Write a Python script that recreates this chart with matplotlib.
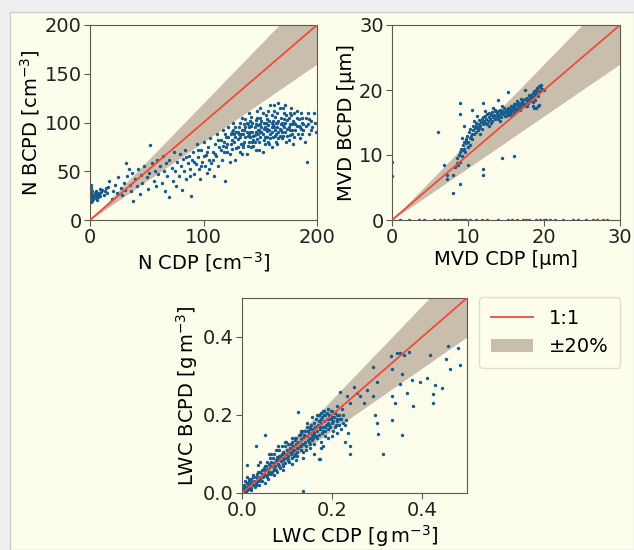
import matplotlib.pyplot as plt
import matplotlib.patches as mpatches
from matplotlib.lines import Line2D
import numpy as np

# ---------------- data ----------------
# N panel  (cm^-3)
n_pts = [
    (0.5,22),(0.5,25),(1,28),(1,33),(1.5,20),(2,24),(2,30),(3,22),(3,26),(4,25),(4,28),(5,23),(5,30),(6,26),
    (7,24),(7,28),(8,27),(9,25),(10,29),(11,31),(12,26),(13,30),(14,33),(15,28),(16,34),(0.5,36),(1,18),(2,21),
    (6,21),(9,32),
    (17,40),(19,22),(20,30),(22,36),(24,28),(25,44),(27,33),(28,26),(30,38),(31,31),(32,58),(33,45),(34,52),
    (35,36),(36,30),(37,48),(38,20),(40,42),(41,35),(42,52),(44,27),(45,46),(46,38),(48,55),(50,44),(51,32),
    (52,48),(53,77),(55,58),(56,40),(57,50),(58,35),(59,62),(60,47),
    (62,55),(63,38),(64,66),(65,50),(66,30),(67,58),(68,45),(70,24),(70,62),(72,53),(73,40),(74,70),(75,50),
    (76,35),(77,60),(78,45),(79,68),(80,55),(81,31),(82,63),(83,50),(84,72),(85,42),(86,58),(87,66),(88,52),
    (89,25),(90,62),(91,70),(92,47),(93,57),(94,78),(95,65),(96,52),(97,42),(98,72),(99,60),(100,80),(101,55),
    (102,67),(103,48),(104,75),(105,62),(106,84),(107,58),(108,70),(109,45),(110,78),
    (85,65),(92,60),(98,55),(103,70),(108,62),(95,72),(88,45),(105,52),(110,68),(100,66),
    (111,66),(112,88),(113,55),(114,75),(115,82),(116,62),(117,92),(118,70),(119,40),(120,85),(121,78),(122,95),
    (123,68),(124,88),(125,73),(126,100),(127,80),(128,62),(129,90),(130,83),(130,75),(131,95),(132,70),(133,88),
    (134,105),(135,78),(136,92),(137,85),(138,68),(139,98),(140,80),(140,110),(141,90),(142,75),(143,100),
    (144,86),(145,95),(146,72),(147,105),(148,88),(149,80),(150,98),(150,115),(151,90),(152,70),(153,100),
    (154,85),(155,108),(156,93),(157,80),(158,102),(159,118),(160,90),(160,75),(161,97),(162,112),(163,86),
    (164,100),(165,78),(166,120),(167,93),(168,105),(169,84),(170,97),(171,110),(172,90),(173,80),(174,103),
    (175,95),(176,87),(177,108),(178,98),(179,78),(180,100),(181,92),(182,105),(183,88),(184,96),(185,84),
    (186,110),(187,100),(188,92),(189,80),(190,105),(191,60),(192,98),(193,88),(195,102),(196,95),(197,110),
    (198,100),(199,90),
    (132,85),(134,92),(136,80),(138,90),(142,96),(144,82),(146,90),(148,97),(152,88),(154,95),(156,85),
    (158,92),(160,100),(162,95),(164,88),(166,102),(168,92),(170,86),(172,100),(174,93),(176,98),(178,88),
    (145,87),(155,100),(165,95),(150,85),(140,95),(135,88),(125,82),(128,85),(120,75),(118,80),(115,72),
    (170,115),(160,108),(150,105),(175,82),(185,95),(180,85),(163,92),(153,93),(143,90),(167,86),(157,97),
    (147,83),(137,95),(127,88),(180,110),(175,105),(165,110),(155,85),(145,80),(135,75),(125,90),(158,78),
    (168,98),(178,92),(188,98),(138,100),(148,92),(150,90),(160,95),
    (128,95),(131,88),(133,78),(136,98),(139,86),(141,102),(143,80),(146,98),(149,92),(151,102),(153,82),
    (156,104),(159,88),(161,85),(163,106),(166,90),(169,100),(171,95),(173,108),(176,92),(179,102),(182,96),
    (184,104),(187,88),(190,96),(193,104),(122,85),(124,78),(126,92),(119,88),(117,76),(113,82),(121,70),
    (123,60),(129,74),(134,68),(139,76),(144,76),(149,72),(154,78),(159,84),(164,80),(169,90),(174,86),
    (157,112),(152,110),(147,112),(162,118),(167,115),(142,106),(137,104),(132,100),(177,115),(172,118),
    (182,112),(187,105),(192,110),(195,92),(141,85),(151,95),(161,102),(171,104),(181,98),(146,103),(156,91),
    (166,84),(176,110),(186,93),(130,90),(140,88),(155,93),(165,99),
]
n_cdp = [p[0] for p in n_pts]
n_bcpd = [p[1] for p in n_pts]

# MVD panel (um)
mvd_pts = [
    (8.3,8.2),(8.5,8.8),(8.6,9.5),(8.8,10),(8.7,8.5),(9,9),(9,10.5),(9.1,11),(9.2,9.8),(9.3,10.8),(9.4,11.5),
    (9.5,12),(9.6,10.5),(9.7,12.5),(9.8,11.8),(9.9,13),(10,12),(10.1,13.5),(10.2,12.6),(10.3,14),(10.4,13),
    (10.5,12.4),(10.6,13.8),(10.7,14.5),(10.8,13.3),(10.9,14.2),(11,13.6),(11.1,15),(11.2,14.3),(11.3,13.8),
    (11.4,14.8),(11.5,15.4),(11.6,14.4),(11.7,15.1),(11.8,14),(11.9,15.6),(12,14.8),(12.1,15.3),(12.2,16),
    (12.3,14.9),(12.4,15.6),(12.5,16.3),(12.6,15.2),(12.7,15.9),(12.8,16.5),(12.9,15.5),(13,16.1),(13.1,15.3),
    (13.2,16.6),(13.3,15.8),(13.4,16.2),(13.5,15.6),(13.6,16.8),(13.7,16),(13.8,16.4),(13.9,15.8),(14,16.7),
    (14.1,16.1),(14.2,17),(14.3,16.4),(14.4,15.9),(14.5,16.8),(14.6,16.3),(14.7,17.2),(14.8,16.6),(14.9,16),
    (15,17),(15.1,16.5),(15.2,17.3),(15.3,16.8),(15.4,16.2),(15.5,17.1),(15.6,16.7),(15.7,17.5),(15.8,16.9),
    (15.9,17.3),(16,16.6),(16.1,17.6),(16.2,17.1),(16.3,17.8),(16.4,17.3),(16.5,16.9),(16.6,17.7),(16.7,18),
    (16.8,17.4),(16.9,17.9),(17,17.2),(17.1,18.2),(17.2,17.7),(17.3,18.4),(17.4,17.9),(17.5,18.6),(17.6,17.5),
    (17.7,18.3),(17.8,18.8),(17.9,18),(18,18.5),(18.1,19),(18.2,18.3),(18.3,19.2),(18.4,18.7),(18.5,19.5),
    (18.6,18.9),(18.7,19.8),(18.8,19.3),(18.9,20),(19,19.5),(19.1,20.3),(19.2,19.1),(19.3,20.6),(19.4,19.8),
    (19.5,20.4),(19.6,20.8),(19.8,20.2),(20,20),
    (10,11.2),(10.5,13.2),(11,14.5),(11.5,14.1),(12,15.9),(12.5,14.7),(13,15),(13.5,17),(14,15.5),(14.5,17.5),
    (15,16),(15.5,16.4),(16,17.9),(16.5,18.3),(17,18.6),(17.5,17.8),(18,19.3),(18.5,18.2),(11.2,16),(10.8,15.2),
    (12.3,16.8),(13.3,17.2),(9.8,12.2),(9.5,11),(9.2,12.6),(10.3,11.5),(11.6,13.2),(12.8,14.4),(14.2,15.3),
    (15.8,16.2),(16.8,16.9),(17.8,17.6),(18.8,18.4),(19.2,17.5),(18.7,17.3),(19.4,17.7),
    (6,13.5),(9,18),(9,16.3),(10.5,17),(12,18),(14,18.5),(15.3,19.7),(17.5,20),(10,8.5),(12,7.8),(12,7),
    (9,5.5),(8,4.2),(14.5,9.5),(16,9.9),(6.8,8.5),(7.2,7),(8,7),(7.3,6.3),(9.5,14.5),(19,17.3),(18.5,17.5),
    (0,9),(0,6.8),
    (1,0),(2.2,0),(3.5,0),(4.2,0),(5.5,0),(6.3,0),(6.8,0),(7.4,0),(8,0),(8.3,0),(8.6,0),(8.9,0),(9.2,0),
    (9.5,0),(9.8,0),(10.2,0),(11,0),(11.8,0),(12.5,0),(14,0),(15.2,0),(15.8,0),(16.5,0),(17.2,0),(17.6,0),
    (18,0),(19,0),(19.5,0),(20,0),(20.3,0),(20.8,0),(21.5,0),(22.5,0),(23.8,0),(24.5,0),(25.5,0),(26.5,0),
    (27,0),(27.7,0),(28.3,0),
]
mvd_cdp = [p[0] for p in mvd_pts]
mvd_bcpd = [p[1] for p in mvd_pts]

# LWC panel (g m^-3)
lwc_pts = [
    (0.002,0.01),(0.004,0.02),(0.005,0.005),(0.006,0.03),(0.008,0.015),(0.01,0.008),(0.01,0.025),(0.012,0.04),
    (0.014,0.018),(0.015,0.01),(0.016,0.03),(0.018,0.022),(0.02,0.035),(0.02,0.012),(0.022,0.028),(0.024,0.045),
    (0.025,0.02),(0.027,0.032),(0.028,0.015),(0.03,0.04),(0.032,0.025),(0.033,0.05),(0.035,0.03),(0.036,0.072),
    (0.038,0.042),(0.04,0.035),(0.04,0.055),(0.042,0.03),(0.044,0.048),(0.045,0.06),(0.047,0.04),(0.048,0.065),
    (0.05,0.045),(0.05,0.148),(0.052,0.058),(0.054,0.07),(0.055,0.04),(0.057,0.062),(0.058,0.05),(0.06,0.075),
    (0.06,0.055),(0.062,0.068),(0.064,0.08),(0.065,0.05),(0.066,0.07),(0.068,0.09),(0.07,0.062),(0.07,0.078),
    (0.072,0.1),(0.073,0.07),(0.075,0.085),(0.076,0.06),(0.078,0.092),(0.08,0.075),(0.08,0.088),(0.082,0.11),
    (0.083,0.07),(0.085,0.095),(0.086,0.082),(0.088,0.1),(0.09,0.085),(0.09,0.07),(0.092,0.105),(0.093,0.09),
    (0.095,0.12),(0.096,0.078),(0.098,0.1),(0.1,0.09),(0.1,0.11),(0.102,0.125),(0.103,0.095),(0.105,0.08),
    (0.106,0.115),(0.108,0.1),(0.11,0.13),(0.11,0.105),(0.112,0.09),(0.114,0.12),(0.115,0.11),(0.117,0.135),
    (0.118,0.1),(0.12,0.125),(0.12,0.14),(0.122,0.115),(0.123,0.095),(0.125,0.13),(0.126,0.148),(0.128,0.12),
    (0.13,0.11),(0.13,0.138),(0.132,0.155),(0.133,0.125),(0.135,0.14),(0.136,0.105),(0.138,0.15),(0.14,0.13),
    (0.14,0.16),(0.142,0.12),(0.144,0.145),(0.145,0.17),(0.147,0.135),(0.148,0.155),(0.15,0.14),(0.15,0.165),
    (0.152,0.125),(0.154,0.175),(0.155,0.15),(0.157,0.16),(0.158,0.14),(0.16,0.18),(0.16,0.155),(0.162,0.17),
    (0.164,0.145),(0.165,0.19),(0.167,0.16),(0.168,0.175),(0.17,0.15),(0.17,0.185),(0.172,0.2),(0.174,0.165),
    (0.175,0.18),(0.177,0.155),(0.178,0.195),(0.18,0.17),(0.18,0.21),(0.182,0.185),(0.184,0.16),(0.185,0.2),
    (0.187,0.175),(0.188,0.19),(0.19,0.165),(0.19,0.215),(0.192,0.18),(0.194,0.2),(0.195,0.17),(0.197,0.19),
    (0.2,0.18),(0.2,0.21),(0.202,0.16),(0.205,0.195),(0.207,0.17),(0.21,0.185),(0.212,0.2),(0.215,0.175),
    (0.218,0.19),(0.22,0.165),(0.222,0.215),(0.225,0.18),(0.05,0.025),(0.03,0.12),(0.01,0.072),(0.065,0.1),
    (0.08,0.11),(0.07,0.045),(0.09,0.06),(0.11,0.075),(0.12,0.085),(0.135,0.09),(0.15,0.115),(0.16,0.125),
    (0.175,0.13),(0.17,0.087),(0.185,0.145),(0.125,0.208),(0.136,0.004),(0.173,0.087),(0.24,0.12),(0.24,0.099),
    (0.228,0.132),(0.232,0.188),(0.236,0.155),
    (0.005,0.015),(0.008,0.002),(0.012,0.025),(0.015,0.035),(0.02,0.008),(0.025,0.04),(0.03,0.02),
    (0.035,0.055),(0.038,0.02),(0.045,0.03),(0.05,0.07),(0.055,0.08),(0.058,0.035),(0.062,0.09),(0.067,0.055),
    (0.072,0.06),(0.075,0.11),(0.078,0.055),(0.082,0.095),(0.085,0.065),(0.088,0.12),(0.092,0.075),(0.095,0.1),
    (0.098,0.13),(0.102,0.085),(0.105,0.105),(0.108,0.125),(0.112,0.11),(0.115,0.095),(0.118,0.14),
    (0.122,0.105),(0.125,0.115),(0.128,0.15),(0.132,0.12),(0.134,0.16),(0.137,0.125),(0.14,0.145),(0.143,0.11),
    (0.146,0.16),(0.149,0.13),(0.152,0.17),(0.155,0.135),(0.158,0.165),(0.161,0.145),(0.164,0.17),(0.167,0.14),
    (0.17,0.2),(0.173,0.17),(0.176,0.19),(0.179,0.16),(0.182,0.2),(0.185,0.17),(0.188,0.205),(0.191,0.19),
    (0.194,0.175),(0.197,0.21),(0.2,0.195),(0.203,0.185),(0.206,0.205),(0.209,0.175),(0.212,0.19),(0.216,0.2),
    (0.22,0.19),(0.224,0.2),(0.228,0.175),(0.183,0.21),(0.176,0.205),(0.166,0.2),(0.155,0.195),(0.145,0.18),
    (0.13,0.16),(0.11,0.14),(0.095,0.13),(0.08,0.12),(0.06,0.1),(0.04,0.08),(0.16,0.1),(0.18,0.12),
    (0.19,0.14),(0.2,0.145),(0.21,0.155),(0.175,0.115),
    (0.218,0.26),(0.255,0.256),(0.248,0.273),(0.262,0.248),(0.277,0.265),(0.233,0.248),(0.299,0.284),
    (0.292,0.248),(0.27,0.231),(0.21,0.222),(0.24,0.231),
    (0.344,0.358),(0.33,0.352),(0.35,0.36),(0.36,0.355),(0.37,0.362),(0.418,0.355),(0.458,0.376),(0.48,0.371),
    (0.454,0.344),(0.462,0.319),(0.484,0.327),(0.292,0.322),(0.333,0.319),(0.355,0.306),(0.377,0.289),
    (0.41,0.296),(0.395,0.285),(0.429,0.276),(0.444,0.268),(0.425,0.254),(0.366,0.256),(0.351,0.279),
    (0.333,0.248),(0.34,0.232),(0.381,0.222),(0.425,0.232),(0.296,0.201),(0.299,0.179),(0.333,0.188),
    (0.303,0.151),(0.355,0.148),(0.314,0.099),
]
lwc_cdp = [p[0] for p in lwc_pts]
lwc_bcpd = [p[1] for p in lwc_pts]

# ---------------- style ----------------
bg = '#fdfdec'
pt_col = '#175a8c'
line_col = '#ee4b3b'
band_col = '#c9bdac'
spine_col = '#5a5a50'

plt.rcParams['font.size'] = 14
plt.rcParams['font.family'] = ['DejaVu Sans']

fig = plt.figure(figsize=(6.34, 5.5), dpi=100, facecolor='#efefef')
# screenshot frame
fig.patches.append(mpatches.Rectangle((10/634, 0), 624/634, 538/550, transform=fig.transFigure,
                                      facecolor=bg, edgecolor='#cfcfcf', lw=1, zorder=-10))

def panel(rect, x, y, lim, ticks, xlabel, ylabel, fmt=None):
    ax = fig.add_axes(rect)
    ax.set_facecolor(bg)
    xx = np.array([0, lim])
    ax.fill_between(xx, 0.8 * xx, 1.2 * xx, color=band_col, lw=0, zorder=1)
    ax.scatter(x, y, s=6, color=pt_col, lw=0, zorder=2)
    ax.plot(xx, xx, color=line_col, lw=1.3, zorder=3)
    ax.set_xlim(0, lim)
    ax.set_ylim(0, lim)
    ax.set_xticks(ticks[0])
    ax.set_yticks(ticks[1])
    if fmt:
        ax.set_xticklabels([fmt % t for t in ticks[0]])
        ax.set_yticklabels([fmt % t for t in ticks[1]])
    ax.set_xlabel(xlabel, labelpad=2)
    ax.set_ylabel(ylabel, labelpad=2)
    for s in ax.spines.values():
        s.set_color(spine_col)
    ax.tick_params(colors=spine_col, labelcolor='#222222', length=4, pad=2)
    return ax

panel([90/634, 330/550, 227/634, 195/550], n_cdp, n_bcpd, 200,
      ([0, 100, 200], [0, 50, 100, 150, 200]),
      r'N CDP [cm$^{-3}$]', r'N BCPD [cm$^{-3}$]')
panel([392/634, 330/550, 228/634, 195/550], mvd_cdp, mvd_bcpd, 30,
      ([0, 10, 20, 30], [0, 10, 20, 30]),
      'MVD CDP [µm]', 'MVD BCPD [µm]')
panel([242/634, 57/550, 225/634, 195/550], lwc_cdp, lwc_bcpd, 0.5,
      ([0.0, 0.2, 0.4], [0.0, 0.2, 0.4]),
      r'LWC CDP [g$\,$m$^{-3}$]', r'LWC BCPD [g$\,$m$^{-3}$]', fmt='%.1f')

handles = [Line2D([0], [0], color=line_col, lw=1.3),
           mpatches.Patch(facecolor=band_col, edgecolor='none')]
fig.legend(handles, ['1:1', '±20%'], loc='upper left', bbox_to_anchor=(479/634, 253/550),
           borderaxespad=0, facecolor=bg, edgecolor='#e6dccb', framealpha=1, fontsize=14,
           handlelength=2.2, borderpad=0.6, labelspacing=0.5)

fig.savefig('out.png', dpi=100, facecolor=fig.get_facecolor())
